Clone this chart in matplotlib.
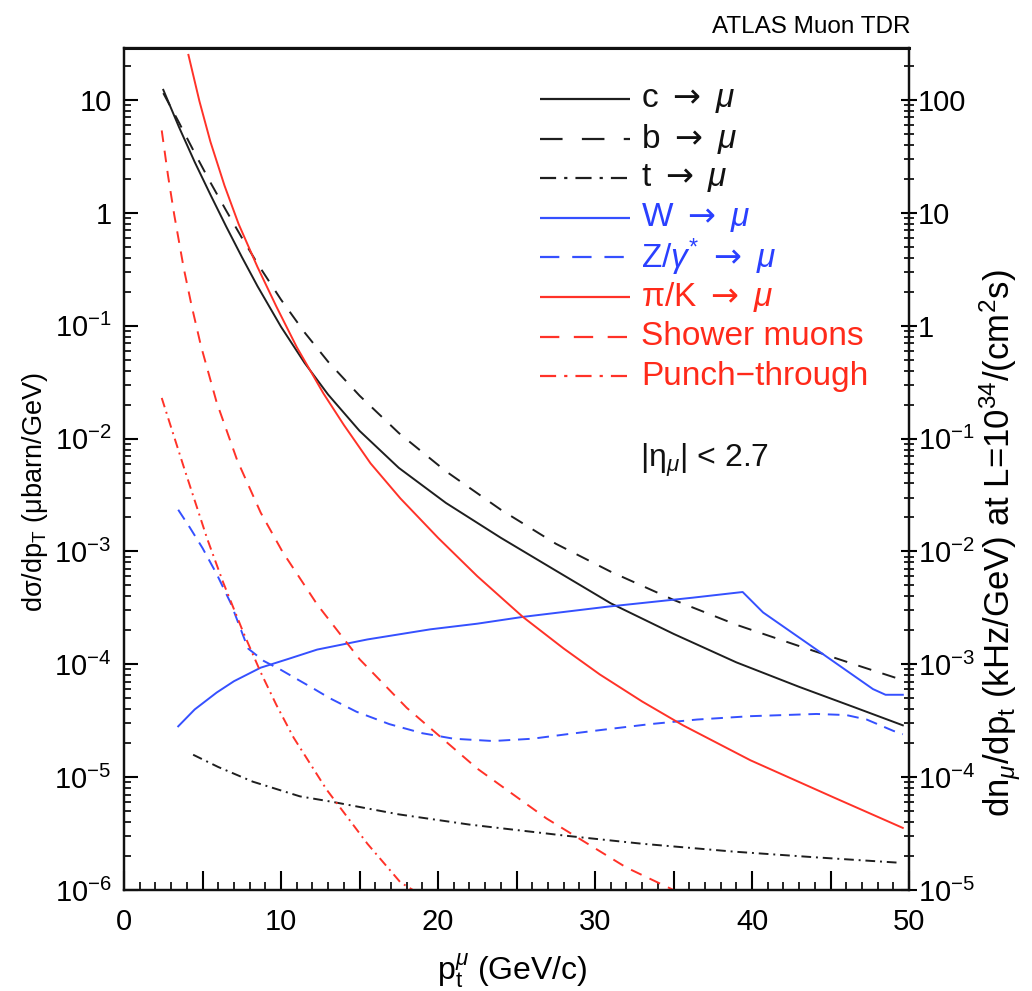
import numpy as np
import matplotlib
matplotlib.use("Agg")
import matplotlib.pyplot as plt
from matplotlib.ticker import LogLocator, MultipleLocator, FuncFormatter, NullFormatter

plt.rcParams['font.family'] = ['Liberation Sans', 'DejaVu Sans']
plt.rcParams['mathtext.fontset'] = 'custom'
plt.rcParams['mathtext.rm'] = 'Liberation Sans'
plt.rcParams['mathtext.it'] = 'Liberation Sans:italic'
plt.rcParams['mathtext.bf'] = 'Liberation Sans:bold'
plt.rcParams['mathtext.sf'] = 'DejaVu Sans'

# ---- inclusive muon cross sections, d(sigma)/dpT in microbarn/GeV, |eta| < 2.7 ----
c_pt = [2.5, 3.5, 4.5, 5.5, 6.5, 7.5, 8.5, 10.0, 11.5, 13.0, 15.0, 17.5, 20.5,
        24.0, 27.5, 31.0, 35.0, 39.0, 43.0, 46.5, 49.6]
c_xs = [12.3, 5.75, 2.82, 1.45, 0.759, 0.407, 0.224, 0.0977, 0.0468, 0.0245,
        0.0117, 5.50e-3, 2.69e-3, 1.32e-3, 6.76e-4, 3.47e-4, 1.86e-4, 1.04e-4,
        6.31e-5, 4.17e-5, 2.88e-5]

b_pt = [2.5, 3.5, 4.5, 5.5, 6.5, 7.5, 8.5, 10.0, 11.5, 13.0, 15.0, 17.5, 20.5,
        24.0, 27.5, 31.0, 35.0, 39.0, 43.0, 46.5, 49.6]
b_xs = [11.5, 6.31, 3.39, 1.86, 1.05, 0.603, 0.355, 0.170, 0.0871, 0.0479,
        0.0240, 0.0112, 5.13e-3, 2.34e-3, 1.17e-3, 6.61e-4, 3.72e-4, 2.24e-4,
        1.45e-4, 1.00e-4, 7.24e-5]

t_pt = [4.4, 6.0, 8.2, 11.2, 13.3, 17.5, 22.0, 28.2, 33.0, 38.8, 44.0, 49.5]
t_xs = [1.58e-5, 1.23e-5, 9.12e-6, 6.76e-6, 6.03e-6, 4.68e-6, 3.80e-6,
        3.02e-6, 2.57e-6, 2.19e-6, 1.95e-6, 1.74e-6]

w_pt = [3.45, 4.5, 5.9, 7.0, 8.7, 10.5, 12.3, 15.5, 19.5, 22.5, 25.4, 30.8,
        36.2, 39.4, 40.7, 44.1, 47.7, 48.5, 49.6]
w_xs = [2.82e-5, 3.98e-5, 5.62e-5, 7.08e-5, 9.33e-5, 1.12e-4, 1.35e-4, 1.66e-4,
        2.04e-4, 2.29e-4, 2.63e-4, 3.24e-4, 3.89e-4, 4.37e-4, 2.88e-4, 1.35e-4,
        6.03e-5, 5.37e-5, 5.37e-5]

z_pt = [3.45, 4.2, 5.0, 5.9, 6.8, 7.9, 8.9, 10.0, 11.0, 12.0, 13.1, 14.8, 16.9,
        19.0, 21.0, 23.5, 26.0, 28.2, 30.5, 33.5, 36.5, 39.9, 44.1, 46.0, 47.3,
        49.0, 49.6]
z_xs = [2.34e-3, 1.62e-3, 1.07e-3, 6.31e-4, 3.47e-4, 1.38e-4, 1.07e-4, 8.91e-5,
        7.41e-5, 6.17e-5, 5.01e-5, 3.80e-5, 2.95e-5, 2.45e-5, 2.19e-5, 2.09e-5,
        2.19e-5, 2.40e-5, 2.63e-5, 2.95e-5, 3.24e-5, 3.47e-5, 3.63e-5, 3.55e-5,
        3.24e-5, 2.57e-5, 2.40e-5]

pik_pt = [4.1, 4.8, 5.5, 6.4, 7.3, 8.5, 9.7, 11.0, 12.7, 14.0, 15.7, 17.6, 20.0,
          22.5, 25.4, 28.0, 30.3, 33.0, 35.6, 39.9, 45.2, 49.6]
pik_xs = [25.1, 9.77, 4.27, 1.74, 0.794, 0.331, 0.148, 0.0646, 0.0251, 0.0132,
          6.03e-3, 2.95e-3, 1.32e-3, 6.03e-4, 2.63e-4, 1.38e-4, 8.13e-5, 4.68e-5,
          2.88e-5, 1.41e-5, 6.61e-6, 3.55e-6]

shower_pt = [2.4, 2.8, 3.2, 3.8, 4.3, 4.9, 5.9, 7.2, 8.7, 10.1, 12.3, 15.0,
             18.0, 22.5, 26.9, 32.0, 35.0]
shower_xs = [5.37, 2.14, 0.955, 0.324, 0.151, 0.0661, 0.0209, 6.46e-3, 2.21e-3,
             9.89e-4, 3.39e-4, 1.11e-4, 4.12e-5, 1.19e-5, 4.31e-6, 1.58e-6, 9.1e-7]

punch_pt = [2.4, 3.8, 5.3, 6.3, 7.6, 8.7, 9.7, 10.8, 12.9, 15.5, 17.6, 18.4]
punch_xs = [2.29e-2, 5.62e-3, 1.29e-3, 5.37e-4, 1.91e-4, 8.51e-5, 4.37e-5,
            2.24e-5, 7.76e-6, 2.57e-6, 1.17e-6, 8.9e-7]

# rate conversion: 1 microbarn/GeV at L = 1e34 cm^-2 s^-1 -> 10 kHz/GeV
RATE_FACTOR = 10.0

BLACK, BLUE, RED = '#1e1e1e', '#3550ff', '#ff3228'
TXT_BLACK, TXT_BLUE, TXT_RED = '#111111', '#2a40ff', '#ff2a1a'

SOLID = '-'
DASH = (0, (7, 6))
DASH_Z = (0, (6, 4))
DASH_R = (0, (6, 4.5))
DASHDOT = (0, (5, 2.5, 1, 2.5))


def scaled(ls, k):
    """Same line style with a stretched dash pattern (for the key samples)."""
    if isinstance(ls, str):
        return ls
    off, seq = ls
    return (off, tuple(v * k for v in seq))


ARROW = r'$\mathsf{\rightarrow}$'
series = [
    (r'c ' + ARROW + r' $\mu$', c_pt, c_xs, BLACK, SOLID, TXT_BLACK, False),
    (r'b ' + ARROW + r' $\mu$', b_pt, b_xs, BLACK, DASH, TXT_BLACK, False),
    (r't ' + ARROW + r' $\mu$', t_pt, t_xs, BLACK, DASHDOT, TXT_BLACK, False),
    (r'W ' + ARROW + r' $\mu$', w_pt, w_xs, BLUE, SOLID, TXT_BLUE, False),
    (r'Z/$\gamma^{*}$ ' + ARROW + r' $\mu$', z_pt, z_xs, BLUE, DASH_Z, TXT_BLUE, False),
    (r'π/K ' + ARROW + r' $\mu$', pik_pt, pik_xs, RED, SOLID, TXT_RED, False),
    ('Shower muons', shower_pt, shower_xs, RED, DASH_R, TXT_RED, True),
    ('Punch−through', punch_pt, punch_xs, RED, DASHDOT, TXT_RED, True),
]

YMIN, YMAX = 1e-6, 10 ** 1.46
XMIN, XMAX = 0, 50

fig = plt.figure(figsize=(10.32, 9.91), dpi=100)
ax = fig.add_axes([0.1202, 0.1019, 0.7607, 0.8496])
ax.set_yscale('log')
ax.set_xlim(XMIN, XMAX)
ax.set_ylim(YMIN, YMAX)

LW = 1.4
for label, pt, xs, col, ls, tcol, floor_tail in series:
    x = np.asarray(pt, dtype=float)
    y = np.asarray(xs, dtype=float)
    if floor_tail:
        # curves that fall below the plotted range continue along its floor
        y = np.maximum(y, YMIN)
        x = np.append(x, XMAX)
        y = np.append(y, YMIN)
        ax.plot(x, y, color=col, ls=ls, lw=LW, clip_on=False, zorder=3)
    else:
        ax.plot(x, y, color=col, ls=ls, lw=LW, zorder=2)

# key drawn row by row in axes coordinates
row_top, row_step = 0.9394, 0.0470
x_line0, x_line1, x_text = 0.530, 0.645, 0.659
for i, (label, pt, xs, col, ls, tcol, _) in enumerate(series):
    yy = row_top - i * row_step
    ax.plot([x_line0, x_line1], [yy, yy], transform=ax.transAxes,
            color=col, ls=scaled(ls, 1.45), lw=LW + 0.2, solid_capstyle='butt')
    ax.text(x_text, yy, label, transform=ax.transAxes, color=tcol,
            fontsize=24, ha='left', va='center')

ax.text(0.657, 0.511, r'|η$_{\mu}$| < 2.7', transform=ax.transAxes,
        fontsize=23, ha='left', va='center', color='#111111')


def decade_label(v, pos):
    e = int(round(np.log10(v)))
    if e >= 0:
        return '%d' % (10 ** e)
    return r'$\mathregular{10^{%d}}$' % e


ax.yaxis.set_major_locator(LogLocator(base=10, numticks=20))
ax.yaxis.set_minor_locator(LogLocator(base=10, subs=np.arange(2, 10), numticks=100))
ax.yaxis.set_major_formatter(FuncFormatter(decade_label))
ax.yaxis.set_minor_formatter(NullFormatter())

ax.xaxis.set_major_locator(MultipleLocator(5))
ax.xaxis.set_minor_locator(MultipleLocator(1))
ax.xaxis.set_major_formatter(FuncFormatter(lambda v, p: '%d' % v if abs(v % 10) < 1e-6 else ''))

ax.tick_params(axis='y', which='major', direction='in', length=10, width=1.5,
               pad=9, labelsize=21, right=False)
ax.tick_params(axis='y', which='minor', direction='in', length=5, width=1.2, right=False)
ax.tick_params(axis='x', which='major', direction='in', length=14, width=1.5,
               pad=13, labelsize=21, top=False)
ax.tick_params(axis='x', which='minor', direction='in', length=6, width=1.2, top=False)

ax2 = ax.twinx()
ax2.set_yscale('log')
ax2.set_ylim(YMIN * RATE_FACTOR, YMAX * RATE_FACTOR)
ax2.yaxis.set_major_locator(LogLocator(base=10, numticks=20))
ax2.yaxis.set_minor_locator(LogLocator(base=10, subs=np.arange(2, 10), numticks=100))
ax2.yaxis.set_major_formatter(FuncFormatter(decade_label))
ax2.yaxis.set_minor_formatter(NullFormatter())
ax2.tick_params(axis='y', which='major', direction='inout', length=11, width=1.5,
                pad=1, labelsize=21)
ax2.tick_params(axis='y', which='minor', direction='inout', length=7, width=1.2)

for a in (ax, ax2):
    for s in a.spines.values():
        s.set_linewidth(1.6)
        s.set_color('#111111')
ax.spines['top'].set_linewidth(2.2)

fig.text(0.034, 0.503, r'd$\mathregular{σ}$/dp$_{\mathregular{T}}$ (μbarn/GeV)',
         rotation=90, ha='center', va='center', fontsize=19.5)
fig.text(0.969, 0.452,
         r'dn$_{\mu}$/dp$_{\mathregular{t}}$ (kHz/GeV) at L=10$^{\mathregular{34}}$/(cm$^{\mathregular{2}}$s)',
         rotation=90, ha='center', va='center', fontsize=25)
fig.text(0.496, 0.021, r'p$_{\mathregular{t}}^{\mu}$ (GeV/c)', ha='center', va='center',
         fontsize=23)
fig.text(0.882, 0.973, 'ATLAS Muon TDR', ha='right', va='center', fontsize=17.5)

fig.savefig('out.png', dpi=100)
